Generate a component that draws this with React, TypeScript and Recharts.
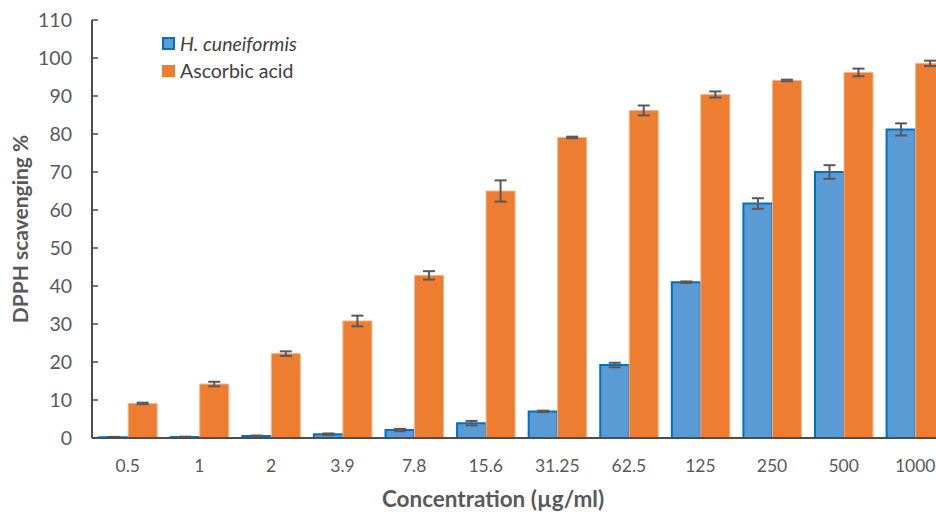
import React from 'react';
import { BarChart, Bar, ErrorBar, XAxis, YAxis, Label } from 'recharts';

const categories = ['0.5', '1', '2', '3.9', '7.8', '15.6', '31.25', '62.5', '125', '250', '500', '1000'];
const hCuneiformis = [0.2, 0.25, 0.5, 1.0, 2.1, 3.9, 7.0, 19.2, 41.0, 61.7, 70.0, 81.2];
const hCuneiformisErr = [0.1, 0.1, 0.15, 0.2, 0.3, 0.6, 0.2, 0.6, 0.2, 1.4, 1.8, 1.6];
const ascorbicAcid = [9.1, 14.2, 22.2, 30.8, 42.8, 65.0, 79.1, 86.2, 90.4, 94.1, 96.2, 98.6];
const ascorbicAcidErr = [0.2, 0.6, 0.6, 1.4, 1.1, 2.8, 0.2, 1.3, 0.8, 0.2, 1.0, 0.7];
const yTicks = [0, 10, 20, 30, 40, 50, 60, 70, 80, 90, 100, 110];

const data = categories.map((c, i) => ({
  category: c,
  hc: hCuneiformis[i],
  hcErr: hCuneiformisErr[i],
  aa: ascorbicAcid[i],
  aaErr: ascorbicAcidErr[i],
}));

const FONT = 'Lato, "Open Sans", sans-serif';
const AXIS = '#4d4d4d';
const TEXT = '#595959';
const BLUE = '#5B9BD5';
const BLUE_EDGE = '#0070C0';
const ORANGE = '#ED7D31';
const ERR = '#595959';

export default function App() {
  return (
    <div
      style={{
        position: 'fixed',
        left: 0,
        top: 0,
        width: 936,
        height: 515,
        overflow: 'hidden',
        background: '#fff',
        fontFamily: FONT,
      }}
    >
      <BarChart
        width={960}
        height={515}
        data={data}
        margin={{ top: 20, right: 9, left: 0, bottom: 0 }}
        barCategoryGap="10%"
        barGap={0}
      >
        <XAxis
          dataKey="category"
          height={77}
          tickLine={false}
          tickSize={0}
          tickMargin={22}
          axisLine={{ stroke: AXIS, strokeWidth: 2 }}
          tick={{ fontSize: 17.5, fill: TEXT, fontFamily: FONT }}
          interval={0}
        >
          <Label
            content={() => (
              <text
                x={493}
                y={507}
                textAnchor="middle"
                fontSize={22.5}
                fontWeight="bold"
                fill={TEXT}
                fontFamily={FONT}
              >
                Concentration (µg/ml)
              </text>
            )}
          />
        </XAxis>
        <YAxis
          type="number"
          domain={[0, 110]}
          ticks={yTicks}
          width={92}
          tickSize={-6}
          tickMargin={26}
          interval={0}
          axisLine={{ stroke: AXIS, strokeWidth: 2 }}
          tickLine={{ stroke: AXIS, strokeWidth: 1.5 }}
          tick={{ fontSize: 19.5, fill: TEXT, fontFamily: FONT }}
        >
          <Label
            content={() => (
              <text
                x={28}
                y={229}
                transform="rotate(-90, 28, 229)"
                textAnchor="middle"
                fontSize={21}
                fontWeight="bold"
                fill={TEXT}
                fontFamily={FONT}
              >
                DPPH scavenging %
              </text>
            )}
          />
        </YAxis>
        <Bar dataKey="hc" fill={BLUE} stroke={BLUE_EDGE} strokeWidth={2} isAnimationActive={false}>
          <ErrorBar dataKey="hcErr" width={6} stroke={ERR} strokeWidth={2} direction="y" />
        </Bar>
        <Bar dataKey="aa" fill={ORANGE} stroke="#F4B58A" strokeWidth={1} isAnimationActive={false}>
          <ErrorBar dataKey="aaErr" width={6} stroke={ERR} strokeWidth={2} direction="y" />
        </Bar>
      </BarChart>

      {/* legend sits inside the plot, top left */}
      <div style={{ position: 'absolute', left: 162, top: 30, fontSize: 19.5, color: '#404040', lineHeight: '27px' }}>
        <div style={{ display: 'flex', alignItems: 'center' }}>
          <span
            style={{
              width: 13,
              height: 13,
              boxSizing: 'border-box',
              background: BLUE,
              border: `2px solid ${BLUE_EDGE}`,
              marginRight: 5,
            }}
          />
          <span style={{ fontStyle: 'italic' }}>H. cuneiformis</span>
        </div>
        <div style={{ display: 'flex', alignItems: 'center' }}>
          <span style={{ width: 13, height: 12, background: ORANGE, marginRight: 5 }} />
          <span>Ascorbic acid</span>
        </div>
      </div>
    </div>
  );
}
